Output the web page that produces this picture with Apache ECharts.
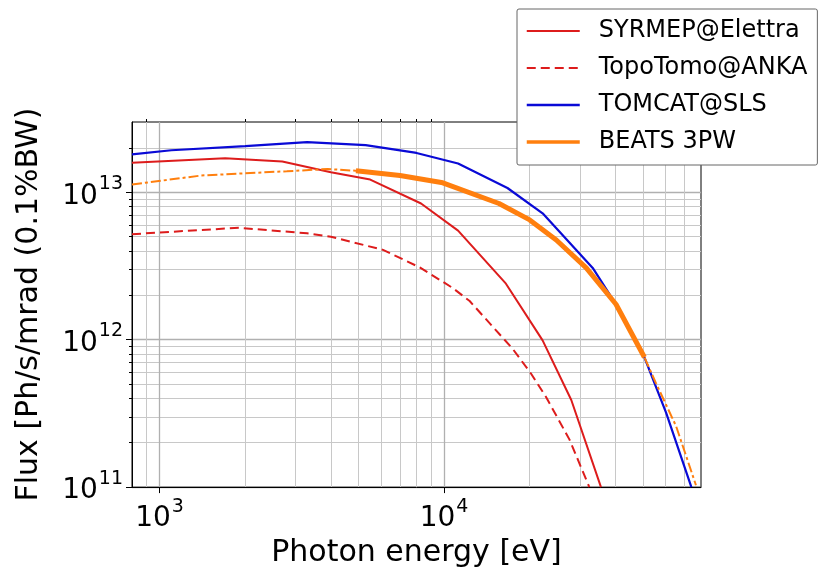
<!DOCTYPE html>
<html style="height: 100%">

<head>
    <meta charset="UTF-8" />
    <script type="text/javascript" src="https://cdn.jsdelivr.net/npm/echarts@6.0.0/dist/echarts.min.js"></script>
</head>

<body style="height: 100%; margin: 0; background: #fff">
    <div id="container" style="width: 823px; height: 573px"></div>
    <script>
        // photon energy [eV] / flux [Ph/s/mrad (0.1%BW)]
        var syrmepE = [800, 1700, 2700, 4000, 5500, 8300, 11200, 16500, 22200, 28000, 35600];
        var syrmepF = [1.59e13, 1.70e13, 1.62e13, 1.37e13, 1.22e13, 8.4e12, 5.5e12, 2.4e12, 9.9e11, 3.9e11, 1.0e11];

        var topoE = [800, 1900, 3300, 4000, 6100, 8200, 10700, 12300, 17400, 20200, 22800, 27600, 32400];
        var topoF = [5.2e12, 5.75e12, 5.27e12, 5.0e12, 4.07e12, 3.1e12, 2.25e12, 1.83e12, 8.7e11, 5.9e11, 4.1e11, 2.1e11, 1.0e11];

        var tomcatE = [800, 1100, 2000, 3300, 5300, 8000, 11200, 16700, 22200, 33300, 40200, 50600, 60300, 74000];
        var tomcatF = [1.81e13, 1.93e13, 2.06e13, 2.19e13, 2.09e13, 1.85e13, 1.57e13, 1.07e13, 7.2e12, 3.07e12, 1.74e12, 7.6e11, 3.2e11, 1.0e11];

        // BEATS: solid part and full dash-dot curve
        var beatsE = [4900, 7000, 9900, 15600, 20000, 24800, 31600, 40200, 50600];
        var beatsF = [1.40e13, 1.30e13, 1.16e13, 8.4e12, 6.5e12, 4.75e12, 3.07e12, 1.74e12, 7.6e11];
        var beatsAllE = [800, 1400, 2800, 3900, 4900, 7000, 9900, 15600, 20000, 24800, 31600, 40200, 50600, 55600, 65400, 76800];
        var beatsAllF = [1.13e13, 1.30e13, 1.39e13, 1.44e13, 1.40e13, 1.30e13, 1.16e13, 8.4e12, 6.5e12, 4.75e12, 3.07e12, 1.74e12, 7.6e11, 5.06e11, 2.59e11, 1.03e11];

        var xMajor = [1000, 10000];
        var xMinor = [900, 2000, 3000, 4000, 5000, 6000, 7000, 8000, 9000,
            20000, 30000, 40000, 50000, 60000, 70000];
        var yMajor = [1e11, 1e12, 1e13];
        var yMinor = [2e11, 3e11, 4e11, 5e11, 6e11, 7e11, 8e11, 9e11,
            2e12, 3e12, 4e12, 5e12, 6e12, 7e12, 8e12, 9e12, 2e13];

        var FONT = 'DejaVu Sans';

        function pairs(xs, ys) {
            return xs.map(function (x, i) { return [x, ys[i]]; });
        }

        function powLabel(v) {
            return '{b|10}{s|' + Math.round(Math.log10(v)) + '}';
        }

        var labelRich = {
            b: { fontSize: 28, fontFamily: FONT, color: '#000', lineHeight: 36, verticalAlign: 'bottom' },
            s: { fontSize: 19, fontFamily: FONT, color: '#000', lineHeight: 36, verticalAlign: 'top', padding: [0, 0, 0, 1] }
        };

        var dom = document.getElementById("container");
        var chart = echarts.init(dom);

        var option = {
            animation: false,
            backgroundColor: '#fff',
            grid: {
                left: 132, top: 122, width: 569, height: 370,
                show: true, borderColor: '#000', borderWidth: 1, backgroundColor: 'transparent'
            },
            legend: {
                data: [
                    { name: 'SYRMEP@Elettra', lineStyle: { width: 2 } },
                    { name: 'TopoTomo@ANKA', lineStyle: { width: 2 } },
                    { name: 'TOMCAT@SLS', lineStyle: { width: 2.5 } },
                    { name: 'BEATS 3PW', lineStyle: { width: 3.5 } }
                ],
                orient: 'vertical',
                left: 517, top: 9,
                padding: [8, 10, 9, 8],
                itemWidth: 53, itemHeight: 14, itemGap: 9,
                itemStyle: { opacity: 0 },
                backgroundColor: '#fff',
                borderColor: '#666', borderWidth: 1, borderRadius: 2,
                selectedMode: false,
                textStyle: { fontSize: 24, fontFamily: FONT, color: '#000', lineHeight: 28, padding: [0, 0, 0, 14] }
            },
            xAxis: [{
                type: 'log', logBase: 10, min: 800, max: 80000,
                name: 'Photon energy [eV]', nameLocation: 'middle', nameGap: 46,
                nameTextStyle: { fontSize: 30, fontFamily: FONT, color: '#000' },
                axisLine: { lineStyle: { color: '#000', width: 1 } },
                axisTick: { customValues: xMajor, length: 6, lineStyle: { color: '#000' } },
                axisLabel: { customValues: xMajor, formatter: powLabel, rich: labelRich, margin: 10 },
                splitLine: { show: true, lineStyle: { color: '#b0b0b0', width: 1.3 } }
            }, {
                type: 'log', logBase: 10, min: 800, max: 80000,
                axisLine: { show: false },
                axisTick: { customValues: xMinor, length: 3, lineStyle: { color: '#000' } },
                axisLabel: { show: false },
                splitLine: { show: true, lineStyle: { color: '#c8c8c8', width: 1 } }
            }],
            yAxis: [{
                type: 'log', logBase: 10, min: 1e11, max: 3e13,
                name: 'Flux [Ph/s/mrad (0.1%BW)', nameLocation: 'middle', nameGap: 88,
                nameTextStyle: { fontSize: 30, fontFamily: FONT, color: '#000' },
                axisLine: { show: true, lineStyle: { color: '#000', width: 1 } },
                axisTick: { show: true, customValues: yMajor, length: 6, lineStyle: { color: '#000' } },
                axisLabel: { customValues: yMajor, formatter: powLabel, rich: labelRich, margin: 9 },
                splitLine: { show: true, lineStyle: { color: '#b0b0b0', width: 1.3 } }
            }, {
                type: 'log', logBase: 10, min: 1e11, max: 3e13, position: 'left',
                axisLine: { show: false },
                axisTick: { show: true, customValues: yMinor, length: 3, lineStyle: { color: '#000' } },
                axisLabel: { show: false },
                splitLine: { show: true, lineStyle: { color: '#c8c8c8', width: 1 } }
            }],
            series: [{
                name: 'SYRMEP@Elettra', type: 'line', symbol: 'none',
                data: pairs(syrmepE, syrmepF),
                lineStyle: { color: '#dd1c1c', width: 2 }, itemStyle: { color: '#dd1c1c' }
            }, {
                name: 'TopoTomo@ANKA', type: 'line', symbol: 'none',
                data: pairs(topoE, topoF),
                lineStyle: { color: '#dd1c1c', width: 2, type: [9, 5] }, itemStyle: { color: '#dd1c1c' }
            }, {
                name: 'TOMCAT@SLS', type: 'line', symbol: 'none',
                data: pairs(tomcatE, tomcatF),
                lineStyle: { color: '#0a0ad6', width: 2.2 }, itemStyle: { color: '#0a0ad6' }
            }, {
                name: 'BEATS 3PW', type: 'line', symbol: 'none',
                data: pairs(beatsE, beatsF),
                lineStyle: { color: '#ff7f0e', width: 5 }, itemStyle: { color: '#ff7f0e' }, z: 4
            }, {
                name: 'BEATS 3PW (ext)', type: 'line', symbol: 'none',
                data: pairs(beatsAllE, beatsAllF),
                lineStyle: { color: '#ff7f0e', width: 2, type: [10, 3, 3, 3] }, itemStyle: { color: '#ff7f0e' }, z: 3
            }]
        };

        chart.setOption(option);
    </script>
</body>

</html>
